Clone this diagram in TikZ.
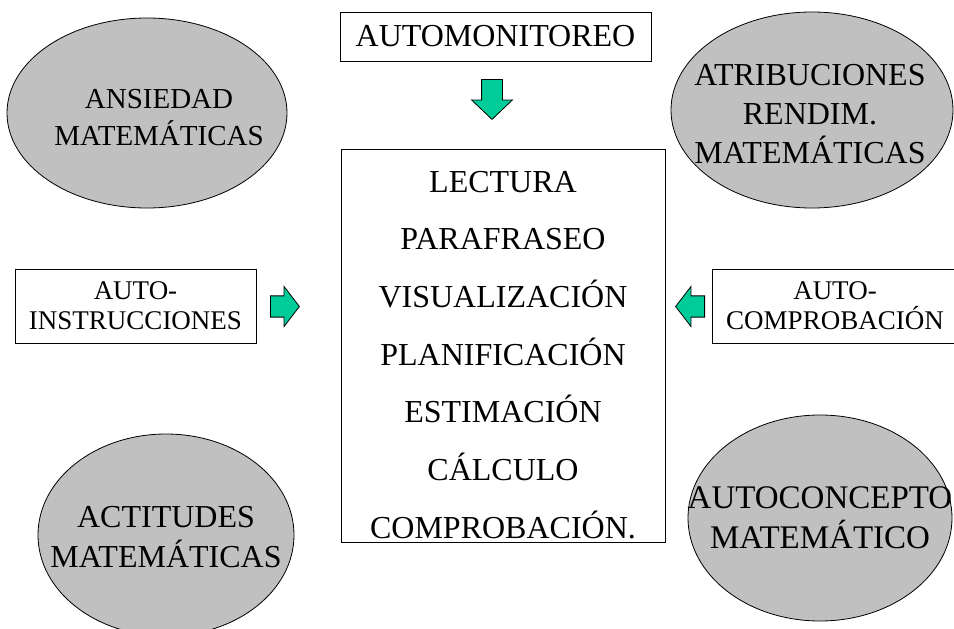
\documentclass[tikz,border=0pt]{standalone}
\usepackage{fontspec}
\setmainfont{Liberation Serif}
\usetikzlibrary{shapes}
\definecolor{arrowGreen}{RGB}{0,204,153}
\definecolor{ellipseGray}{RGB}{192,192,192}

\begin{document}
\begin{tikzpicture}
[x=1pt,y=-1pt,
  boxDecorate/.style={rectangle,draw,line width=1pt,inner sep=0pt,align=center},
  ellipseDecorate/.style={ellipse,draw,line width=0.8pt,fill=ellipseGray,inner sep=0pt},
  arrowDecorate/.style={single arrow,draw,line width=0.8pt,fill=arrowGreen,inner xsep=0pt,anchor=tail},
  stepText/.style={anchor=base,font=\fontsize{32}{38}\selectfont}]
\useasboundingbox (0,0) rectangle (954,629);
%%
%%%%%%%%%%%%%%%%%%%%%%%%%%%%%%%%%%%%%%%%%%%%%%%%%%%%%%%%%%%%%%%%%%%%%%%%%%%
%%
%% affective factors
\node (ansiedad) at (147,113) [ellipseDecorate,minimum width=280pt,minimum height=190pt,
  label={[align=center,xshift=12pt,yshift=-5pt,font=\fontsize{29}{37}\selectfont]center:ANSIEDAD\\MATEMÁTICAS}] {};
\node (atribuciones) at (812,110) [ellipseDecorate,minimum width=282pt,minimum height=196pt,
  label={[align=center,xshift=-2pt,yshift=-4pt,font=\fontsize{32}{39}\selectfont]center:ATRIBUCIONES\\RENDIM.\\MATEMÁTICAS}] {};
\node (actitudes) at (166,535) [ellipseDecorate,minimum width=256pt,minimum height=202pt,
  label={[align=center,yshift=-2pt,font=\fontsize{32}{40}\selectfont]center:ACTITUDES\\MATEMÁTICAS}] {};
\node (autoconcepto) at (820,518) [ellipseDecorate,minimum width=264pt,minimum height=206pt,
  label={[align=center,font=\fontsize{33}{40}\selectfont]center:AUTOCONCEPTO\\MATEMÁTICO}] {};
%%
%%%%%%%%%%%%%%%%%%%%%%%%%%%%%%%%%%%%%%%%%%%%%%%%%%%%%%%%%%%%%%%%%%%%%%%%%%%
%%
%% self regulation boxes
\node (automonitoreo) at (495.5,36.5) [boxDecorate,minimum width=311pt,minimum height=49pt,
  font=\fontsize{32}{38}\selectfont] {AUTOMONITOREO};
\node (instrucciones) at (135.5,306) [boxDecorate,minimum width=241pt,minimum height=74pt,
  font=\fontsize{27}{30}\selectfont] {AUTO-\\INSTRUCCIONES};
\node (autocomprobacion) at (835,306) [boxDecorate,minimum width=246pt,minimum height=74pt,
  font=\fontsize{27}{30}\selectfont] {AUTO-\\COMPROBACIÓN};
%%
%% problem solving steps
\node (steps) at (503,345.5) [boxDecorate,minimum width=324pt,minimum height=393pt] {};
\foreach \nodename/\y/\txt in {
  lectura/192/LECTURA, parafraseo/249/PARAFRASEO,
  visualizacion/307/VISUALIZACIÓN, planificacion/365/PLANIFICACIÓN,
  estimacion/422/ESTIMACIÓN, calculo/480/CÁLCULO,
  comprobacion/538/COMPROBACIÓN.}
{
  \node (\nodename) at (503,\y) [stepText] {\txt};
}
%%
%%%%%%%%%%%%%%%%%%%%%%%%%%%%%%%%%%%%%%%%%%%%%%%%%%%%%%%%%%%%%%%%%%%%%%%%%%%
%%
%% block arrows into the steps
\node (downArrow) at (492,79) [arrowDecorate,rotate=-90,inner ysep=10pt,minimum width=38pt,
  minimum height=40pt,single arrow head extend=10pt,single arrow tip angle=93] {};
\node (rightArrow) at (270,306.5) [arrowDecorate,inner ysep=7.5pt,minimum width=40pt,
  minimum height=29pt,single arrow head extend=7pt,single arrow tip angle=105] {};
\node (leftArrow) at (705,306.5) [arrowDecorate,rotate=180,inner ysep=7.5pt,minimum width=40pt,
  minimum height=29pt,single arrow head extend=7pt,single arrow tip angle=105] {};
\end{tikzpicture}
\end{document}
